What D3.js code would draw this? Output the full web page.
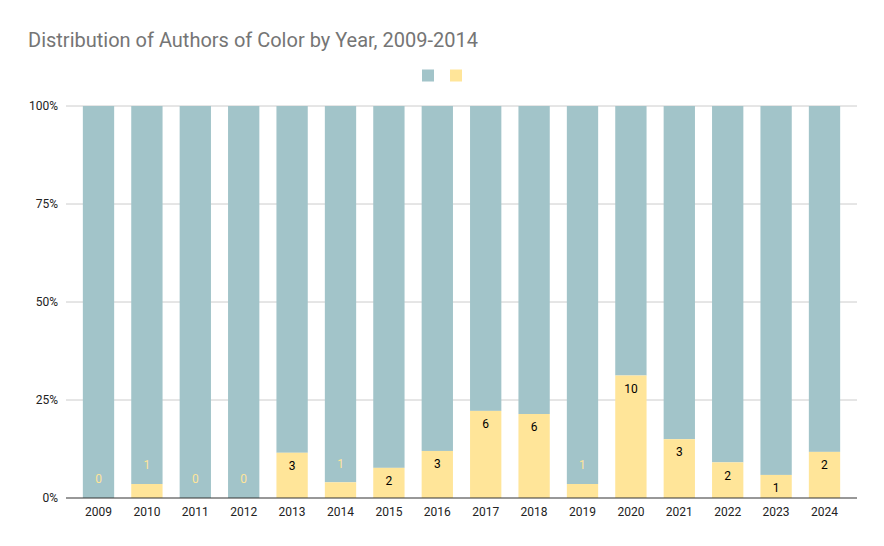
<!DOCTYPE html>
<html><head><meta charset="utf-8">
<script src="https://cdn.jsdelivr.net/npm/d3@7"></script>
<style>body{margin:0;background:#fff;}svg{display:block;font-family:Roboto,Arial,sans-serif;}</style>
</head><body>
<svg id="c" width="884" height="546"></svg>
<script>
const years = ["2009","2010","2011","2012","2013","2014","2015","2016","2017","2018","2019","2020","2021","2022","2023","2024"];
const otherAuthors = [25,27,25,25,23,24,24,22,21,22,27,22,17,20,16,15];
const authorsOfColor = [0,1,0,0,3,1,2,3,6,6,1,10,3,2,1,2];
const yTicks = [0,0.25,0.5,0.75,1];
const colors = {other:"#a2c4c9", poc:"#ffe599"};

const svg = d3.select("#c");
const x = d3.scaleBand().domain(years).range([66,857]).paddingInner(0.353).paddingOuter(0.348);
const y = d3.scaleLinear().domain([0,1]).range([498,106]);

svg.append("text").attr("x",28).attr("y",47).attr("fill","#757575")
  .attr("font-size",20).text("Distribution of Authors of Color by Year, 2009-2014");

// legend
svg.append("rect").attr("x",422).attr("y",69.5).attr("width",12).attr("height",12).attr("fill",colors.other);
svg.append("rect").attr("x",450).attr("y",69.5).attr("width",12).attr("height",12).attr("fill",colors.poc);

// gridlines
svg.append("g").selectAll("line").data(yTicks.filter(d=>d>0)).join("line")
  .attr("x1",66).attr("x2",857).attr("y1",d=>y(d)).attr("y2",d=>y(d))
  .attr("stroke","#cccccc").attr("stroke-width",1);

svg.append("g").selectAll("text").data(yTicks).join("text")
  .attr("x",58).attr("y",d=>y(d)).attr("dy","0.35em").attr("text-anchor","end")
  .attr("font-size",12).attr("fill","#222").text(d=>d3.format(".0%")(d));

const rows = years.map((yr,i)=>{
  const t = otherAuthors[i]+authorsOfColor[i];
  return {yr, poc: authorsOfColor[i]/t, n: authorsOfColor[i]};
});

const g = svg.append("g");
g.selectAll("rect.o").data(rows).join("rect").attr("class","o")
  .attr("x",d=>x(d.yr)).attr("width",x.bandwidth())
  .attr("y",y(1)).attr("height",d=>y(d.poc)-y(1)).attr("fill",colors.other);
g.selectAll("rect.p").data(rows).join("rect").attr("class","p")
  .attr("x",d=>x(d.yr)).attr("width",x.bandwidth())
  .attr("y",d=>y(d.poc)).attr("height",d=>y(0)-y(d.poc)).attr("fill",colors.poc);

g.selectAll("text.l").data(rows).join("text").attr("class","l")
  .attr("x",d=>x(d.yr)+x.bandwidth()/2)
  .attr("y",d=>{const h=y(0)-y(d.poc); return h>=20 ? y(d.poc)+13 : y(d.poc)-19;})
  .attr("dy","0.35em").attr("text-anchor","middle").attr("font-size",12)
  .attr("fill",d=>(y(0)-y(d.poc))>=20 ? "#000" : colors.poc)
  .text(d=>d.n);

// x axis
svg.append("line").attr("x1",66).attr("x2",857).attr("y1",498).attr("y2",498)
  .attr("stroke","#333").attr("stroke-width",1.2);
svg.append("g").selectAll("text").data(years).join("text")
  .attr("x",d=>x(d)+x.bandwidth()/2).attr("y",512).attr("dy","0.35em")
  .attr("text-anchor","middle").attr("font-size",12).attr("fill","#222").text(d=>d);
</script>
</body></html>
